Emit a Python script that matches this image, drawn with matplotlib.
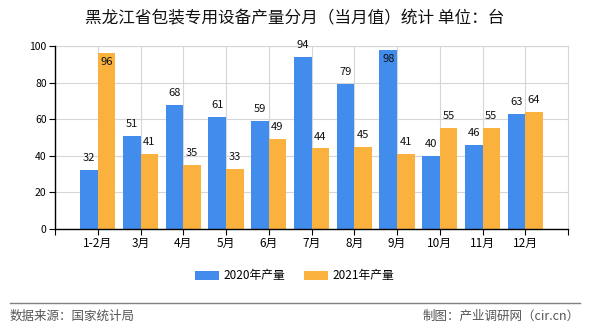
import matplotlib
matplotlib.use("Agg")
import matplotlib.pyplot as plt
from matplotlib.lines import Line2D

plt.rcParams["font.family"] = ["Noto Sans CJK SC", "DejaVu Sans"]

# Chart data
months = ["1-2月", "3月", "4月", "5月", "6月", "7月", "8月", "9月", "10月", "11月", "12月"]
output_2020 = [32, 51, 68, 61, 59, 94, 79, 98, 40, 46, 63]
output_2021 = [96, 41, 35, 33, 49, 44, 45, 41, 55, 55, 64]
series_names = ["2020年产量", "2021年产量"]
y_ticks = [0, 20, 40, 60, 80, 100]

blue = "#418CEC"
orange = "#FBB13E"
grid_color = "#d6d6d6"

fig = plt.figure(figsize=(5.9, 3.3), dpi=100)
ax = fig.add_axes([55 / 590, 1 - 229 / 330, 513 / 590, 183 / 330])

x = list(range(len(months)))
w = 0.41
bars_a = ax.bar([i - w / 2 for i in x], output_2020, width=w, color=blue, zorder=3)
bars_b = ax.bar([i + w / 2 for i in x], output_2021, width=w, color=orange, zorder=3)


def label_bars(bars, values):
    # put value labels above bars, inside when too close to the top
    for b, v in zip(bars, values):
        cx = b.get_x() + b.get_width() / 2
        if v >= 95:
            ax.annotate(str(v), (cx, v), xytext=(0, -3), textcoords="offset points",
                        ha="center", va="top", fontsize=8, color="#111111", zorder=4)
        else:
            ax.annotate(str(v), (cx, v), xytext=(0, 5), textcoords="offset points",
                        ha="center", va="bottom", fontsize=8, color="#111111", zorder=4)


label_bars(bars_a, output_2020)
label_bars(bars_b, output_2021)

ax.set_xlim(-1, len(months))
ax.set_ylim(0, 100)
ax.set_yticks(y_ticks)
ax.set_xticks(x)
ax.set_xticklabels(months, fontsize=8.5)
ax.set_xticks([-1, len(months)], minor=True)
ax.tick_params(axis="y", labelsize=7.5, length=4, width=0.8, pad=2)
ax.tick_params(axis="x", which="both", length=4, width=0.8, pad=2)

ax.grid(True, color=grid_color, linewidth=0.8, zorder=0)
ax.set_axisbelow(True)
for side in ["top", "right"]:
    ax.spines[side].set_color(grid_color)
    ax.spines[side].set_linewidth(0.8)
for side in ["left", "bottom"]:
    ax.spines[side].set_color("black")
    ax.spines[side].set_linewidth(1.0)
    ax.spines[side].set_zorder(5)

fig.text(0.5, 1 - 19 / 330, "黑龙江省包装专用设备产量分月（当月值）统计 单位：台",
         ha="center", va="center", fontsize=12, color="#111111")

fig.legend([bars_a, bars_b], series_names, loc="center", bbox_to_anchor=(0.5, 1 - 276 / 330),
           ncol=2, frameon=False, fontsize=8.5, handlelength=2.0, handleheight=0.8,
           columnspacing=1.6, handletextpad=0.4)

fig.add_artist(Line2D([10 / 590, 580 / 590], [1 - 303 / 330, 1 - 303 / 330],
                      color="#808080", linewidth=1.0))
fig.text(10 / 590, 1 - 316 / 330, "数据来源：国家统计局", ha="left", va="center",
         fontsize=9, color="#555555")
fig.text(580 / 590, 1 - 316 / 330, "制图：产业调研网（cir.cn）", ha="right", va="center",
         fontsize=9, color="#555555")

fig.savefig("out.png", dpi=100)
